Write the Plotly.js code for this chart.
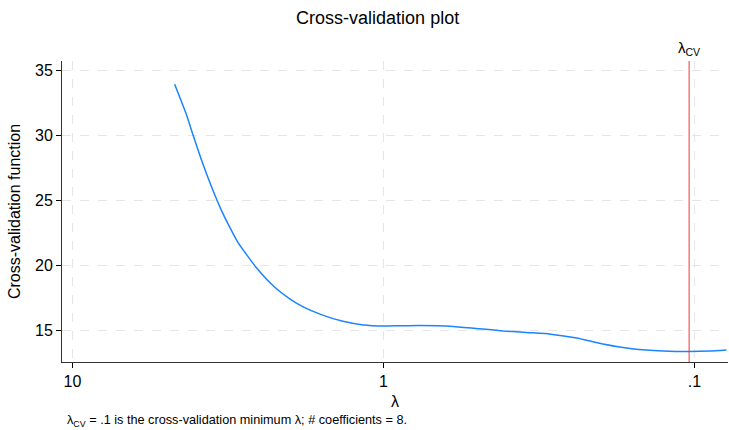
<!DOCTYPE html>
<html>
<head>
<meta charset="utf-8">
<script src="https://cdn.plot.ly/plotly-3.0.1.min.js"></script>
<style>html,body{margin:0;padding:0;background:#fff;}#chart{width:729px;height:430px;}</style>
</head>
<body>
<div id="chart"></div>
<script>
// Data
const lambda = [4.69, 4.30, 4.09, 3.85, 3.57, 3.32, 3.12, 2.94, 2.56, 2.24, 2.00, 1.81, 1.56, 1.35, 1.16, 1.00, 0.887, 0.764, 0.597, 0.490, 0.412, 0.339, 0.290, 0.239, 0.215, 0.197, 0.157, 0.126, 0.104, 0.0893, 0.0789];
const cvFunction = [33.95, 31.62, 30.02, 28.15, 26.05, 24.25, 22.93, 21.78, 19.80, 18.32, 17.40, 16.78, 16.13, 15.67, 15.39, 15.31, 15.33, 15.35, 15.28, 15.10, 14.93, 14.80, 14.68, 14.38, 14.13, 13.92, 13.54, 13.39, 13.35, 13.38, 13.46];
const lambdaCV = 0.104;
const xTickVals = [10, 1, 0.1];
const xTickText = ["10", "1", ".1"];
const yTickVals = [15, 20, 25, 30, 35];
const yRange = [12.535, 35.747];
const xRangeLog = [1.0334, -1.108];

const font = "Liberation Sans, Arial, Helvetica, sans-serif";

const traces = [
  {
    x: lambda, y: cvFunction, type: "scatter", mode: "lines",
    line: {color: "#1a85ff", width: 1.5, shape: "spline", smoothing: 0.5},
    hoverinfo: "skip", showlegend: false
  },
  {
    x: [lambdaCV, lambdaCV], y: yRange, type: "scatter", mode: "lines",
    line: {color: "#e8383d", width: 1},
    hoverinfo: "skip", showlegend: false, cliponaxis: false
  }
];

const layout = {
  width: 729, height: 430,
  margin: {l: 62, r: 1, t: 61, b: 68},
  paper_bgcolor: "#fff", plot_bgcolor: "#fff",
  font: {family: font, color: "#000", size: 16},
  title: {text: "Cross-validation plot", font: {size: 18, family: font, color: "#000"},
          x: 0.518, xref: "container", xanchor: "center", y: 0.958, yref: "container", yanchor: "middle"},
  showlegend: false,
  xaxis: {
    type: "log", range: xRangeLog,
    tickvals: xTickVals, ticktext: xTickText,
    ticks: "outside", ticklen: 5, tickcolor: "#000", tickwidth: 1,
    showline: true, linecolor: "#333", linewidth: 1,
    showgrid: true, gridcolor: "#e6e6e6", griddash: "dash", gridwidth: 1,
    zeroline: false, tickfont: {size: 16, family: font, color: "#000"},
    title: {text: "λ", font: {size: 16, family: font, color: "#000"}, standoff: 6}
  },
  yaxis: {
    range: yRange, tickvals: yTickVals,
    ticks: "outside", ticklen: 5, tickcolor: "#000", tickwidth: 1,
    showline: true, linecolor: "#333", linewidth: 1,
    showgrid: true, gridcolor: "#e6e6e6", griddash: "dash", gridwidth: 1,
    zeroline: false, tickfont: {size: 16, family: font, color: "#000"},
    title: {text: "Cross-validation function", font: {size: 16, family: font, color: "#000"}, standoff: 10}
  },
  annotations: [
    {
      x: Math.log10(lambdaCV), xref: "x", y: 1, yref: "paper",
      yanchor: "bottom", xanchor: "center", yshift: 1,
      text: "λ<sub>CV</sub>", showarrow: false, font: {size: 15, family: font, color: "#000"}
    },
    {
      x: 0.0045, xref: "paper", y: -0.196, yref: "paper",
      xanchor: "left", yanchor: "middle",
      text: "λ<sub>CV</sub> = .1 is the cross-validation minimum λ; # coefficients = 8.",
      showarrow: false, font: {size: 12.7, family: font, color: "#000"}
    }
  ]
};

Plotly.newPlot("chart", traces, layout, {displayModeBar: false, staticPlot: true});
</script>
</body>
</html>
